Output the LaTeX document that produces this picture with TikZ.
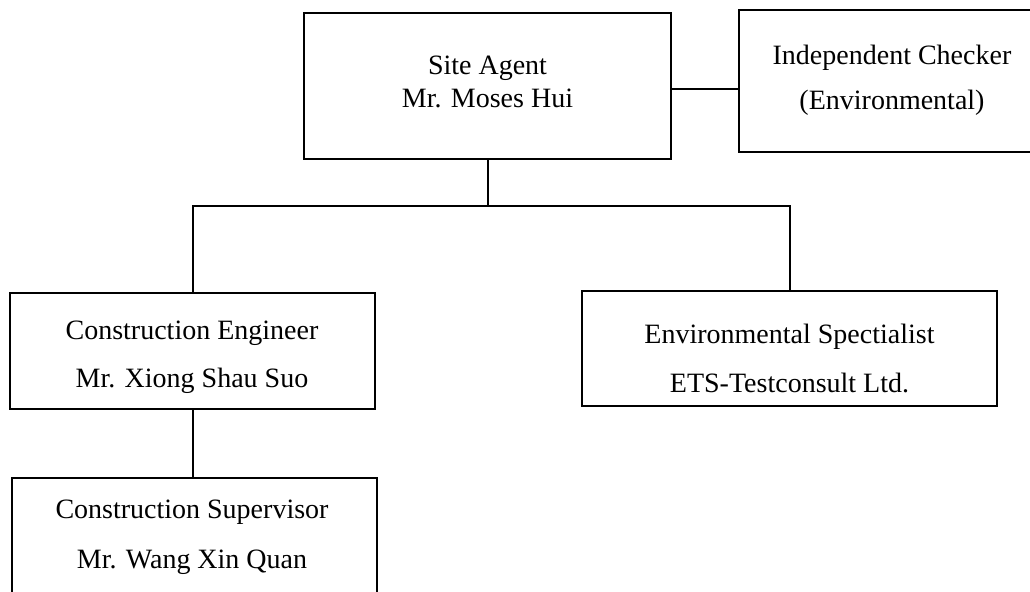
\documentclass[tikz,border=0pt]{standalone}
\usepackage{fontspec}
\setmainfont{Liberation Serif}

\begin{document}
\begin{tikzpicture}[x=0.5pt, y=-0.5pt, line width=1pt,
  box/.style={draw, rectangle, inner sep=0pt},
  txt/.style={align=center, inner sep=0pt, font=\fontsize{14}{16.5}\selectfont}]

  \useasboundingbox (0,0) rectangle (1030,592);
  \clip (0,0) rectangle (1030,592);

  \node[box, minimum width=183.5pt, minimum height=73pt]   (agent)      at (487.5,86)    {};
  \node[box, minimum width=153pt,   minimum height=71pt]   (checker)    at (892,81)      {};
  \node[box, minimum width=182.5pt, minimum height=58pt]   (engineer)   at (192.5,351)   {};
  \node[box, minimum width=207.5pt, minimum height=57.5pt] (envspec)    at (789.5,348.5) {};
  \node[box, minimum width=182.5pt, minimum height=59pt]   (supervisor) at (194.5,537)   {};

  \node[txt] (agenttxt)      at (487.5,81.5) {Site Agent\\[0pt] Mr. Moses Hui};
  \node[txt] (checkertxt)    at (892,80.7)   {Independent Checker\\[6pt] (Environmental)};
  \node[txt] (engineertxt)   at (192,357.7)  {Construction Engineer\\[7.5pt] Mr. Xiong Shau Suo};
  \node[txt] (envspectxt)    at (789.5,358.3) {Environmental Spectialist\\[8pt] ETS-Testconsult Ltd.};
  \node[txt] (supervisortxt) at (192,537)    {Construction Supervisor\\[8.5pt] Mr. Wang Xin Quan};

  \coordinate (link) at (705,89);
  \coordinate (bus)  at (487.5,206);

  \draw (link -| agent.east) -- (link -| checker.west);
  \draw (agent.south) -- (bus);
  \draw (engineer.north) |- (bus) -| (envspec.north);
  \draw (engineer.south) -- (engineer.south |- supervisor.north);
\end{tikzpicture}
\end{document}
